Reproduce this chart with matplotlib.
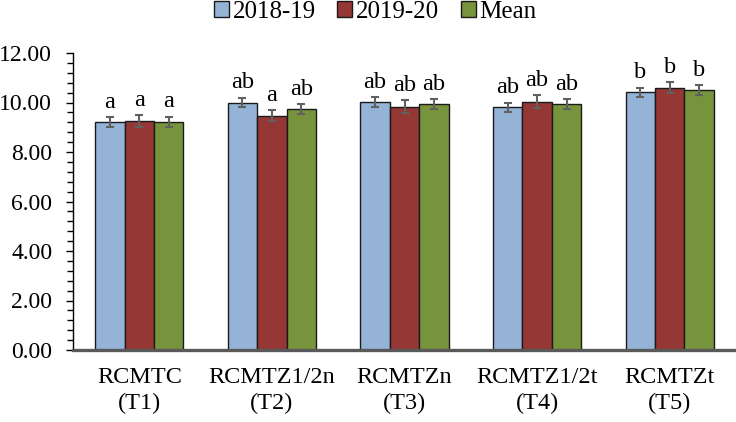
import matplotlib
matplotlib.use("Agg")
import matplotlib.pyplot as plt
import numpy as np

# data
treatments = ["RCMTC\n(T1)", "RCMTZ1/2n\n(T2)", "RCMTZn\n(T3)", "RCMTZ1/2t\n(T4)", "RCMTZt\n(T5)"]
series = ["2018-19", "2019-20", "Mean"]
y2018 = [9.20, 10.00, 10.03, 9.81, 10.41]
y2019 = [9.24, 9.47, 9.83, 10.04, 10.60]
ymean = [9.22, 9.73, 9.93, 9.93, 10.51]
err2018 = [0.20, 0.20, 0.20, 0.19, 0.19]
err2019 = [0.25, 0.23, 0.26, 0.26, 0.23]
errmean = [0.21, 0.21, 0.21, 0.21, 0.21]
let2018 = ["a", "ab", "ab", "ab", "b"]
let2019 = ["a", "a", "ab", "ab", "b"]
letmean = ["a", "ab", "ab", "ab", "b"]

colors = ["#95B3D7", "#953735", "#77933C"]

plt.rcParams["font.family"] = ["Liberation Serif", "DejaVu Serif"]

fig = plt.figure(figsize=(7.36, 4.22), dpi=100)
ax = fig.add_axes([73 / 736, 1 - 350 / 422, 663 / 736, 297 / 422])

x = np.arange(len(treatments))
w = 0.222
vals = [y2018, y2019, ymean]
errs = [err2018, err2019, errmean]
lets = [let2018, let2019, letmean]

for i, (v, e, lt) in enumerate(zip(vals, errs, lets)):
    xi = x + (i - 1) * w
    ax.bar(xi, v, w, color=colors[i], edgecolor="#1a1a1a", linewidth=1.0,
           label=series[i], zorder=2)
    ax.errorbar(xi, v, yerr=e, fmt="none", ecolor="#606060", elinewidth=1.5,
                capsize=3, capthick=1.5, zorder=3)
    for xx, vv, ee, tt in zip(xi, v, e, lt):
        ax.annotate(tt, (xx, vv + ee), xytext=(0, 3), textcoords="offset points",
                    ha="center", va="bottom", fontsize=17.5)

ax.set_xlim(-0.5, 4.5)
ax.set_ylim(0, 12)
ax.set_yticks(np.arange(0, 12.01, 2))
ax.set_yticks(np.arange(0, 12.01, 0.4), minor=True)
ax.set_yticklabels([f"{t:.2f}" for t in np.arange(0, 12.01, 2)], fontsize=17)
ax.set_xticks(x)
ax.set_xticklabels(treatments, fontsize=17.5, linespacing=1.35)

ax.tick_params(axis="x", length=0, pad=12)
ax.tick_params(axis="y", which="major", direction="out", length=5, width=1, pad=10)
ax.tick_params(axis="y", which="minor", direction="out", length=4, width=1)

ax.spines["top"].set_visible(False)
ax.spines["right"].set_visible(False)
ax.spines["left"].set_color("black")
ax.spines["left"].set_linewidth(1.0)
ax.spines["bottom"].set_color("#595959")
ax.spines["bottom"].set_linewidth(2.4)
ax.spines["bottom"].set_zorder(4)

fig.legend(loc="center", bbox_to_anchor=(0.51, 0.972), ncol=3, frameon=False,
           fontsize=18, handlelength=0.6, handleheight=0.6, handletextpad=0.15,
           columnspacing=0.85, borderpad=0.1)

fig.savefig("out.png", dpi=100)
